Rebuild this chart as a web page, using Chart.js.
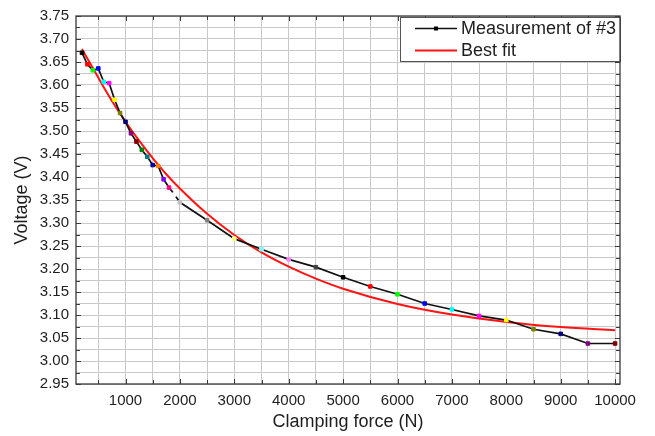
<!DOCTYPE html>
<html>
<head>
<meta charset="utf-8">
<script src="https://cdn.jsdelivr.net/npm/chart.js@4/dist/chart.umd.min.js"></script>
<style>
  html, body { margin: 0; padding: 0; background: #fff; }
  #wrap { width: 655px; height: 436px; }
</style>
</head>
<body>
<div id="wrap"><canvas id="c" width="655" height="436"></canvas></div>
<script>
// Clamping force steps (N) and the measured output voltage of sample #3 (V)
const forceN = [200, 300, 400, 500, 600, 700, 800, 900, 1000, 1100, 1200, 1300, 1400, 1500, 1600, 1700, 1800,
                1900, 2000, 2500, 3000, 3500, 4000, 4500, 5000, 5500, 6000, 6500, 7000, 7500, 8000, 8500, 9000, 9500, 10000];
const voltageV = [3.670, 3.645, 3.632, 3.636, 3.607, 3.604, 3.568, 3.539, 3.520, 3.495, 3.477, 3.459, 3.444, 3.426, 3.424, 3.395, 3.377,
                  3.362, 3.345, 3.306, 3.266, 3.243, 3.221, 3.204, 3.182, 3.162, 3.145, 3.125, 3.112, 3.098, 3.089, 3.069, 3.059, 3.038, 3.038];

// Best-fit curve, sampled along the force axis
const fitForceN = [200, 400, 600, 800, 1000, 1250, 1500, 1750, 2000, 2500, 3000, 3500, 4000, 4500, 5000, 6000, 7000, 8000, 9000, 10000];
const fitVoltageV = [3.678, 3.637, 3.595, 3.556, 3.520, 3.479, 3.441, 3.406, 3.375, 3.320, 3.274, 3.236, 3.205, 3.179, 3.157, 3.124, 3.101, 3.085, 3.074, 3.067];

// Axis tick labels
const xTickLabels = ['1000', '2000', '3000', '4000', '5000', '6000', '7000', '8000', '9000', '10000'];
const yTickLabels = ['2.95', '3.00', '3.05', '3.10', '3.15', '3.20', '3.25', '3.30', '3.35', '3.40', '3.45',
                     '3.50', '3.55', '3.60', '3.65', '3.70', '3.75'];

// Per-point marker colours (Origin colour cycle)
const cycle = ['#000000', '#ff0000', '#00ff00', '#0000ff', '#00ffff', '#ff00ff', '#ffff00', '#808000',
               '#000080', '#800080', '#800000', '#008000', '#008080', '#0000a0', '#ff8000', '#8000ff',
               '#ff0080', '#ffffff', '#c0c0c0', '#808080', '#ffff80', '#80ffff', '#ff80ff', '#404040'];
const markerColors = forceN.map((_, i) => cycle[i % cycle.length]);

const FONT = 'Arial, "Liberation Sans", Helvetica, sans-serif';
const TEXT = '#1e1e1e';

// grid lines sit halfway between labelled ticks as well
function gridValues(labels, decimals) {
  const vals = labels.map(Number);
  const step = vals[1] - vals[0];
  const out = [];
  const first = vals[0] - step / 2;
  for (let v = first > 0 ? first : vals[0]; v <= vals[vals.length - 1] + 1e-9; v += step / 2) {
    out.push(+v.toFixed(decimals));
  }
  return out;
}
const xGrid = gridValues(xTickLabels, 0);
const yGrid = gridValues(yTickLabels, 3).filter(v => v >= 2.95 - 1e-9);

function labelFor(labels, value) {
  const hit = labels.find(l => Math.abs(Number(l) - value) < 1e-6);
  return hit === undefined ? '' : hit;
}

const framePlugin = {
  id: 'frameAndLegend',
  afterDraw(chart) {
    const { ctx, chartArea: a, scales: { x, y } } = chart;
    ctx.save();

    // inward ticks on all four sides
    ctx.strokeStyle = '#3a3a3a';
    ctx.lineWidth = 1;
    ctx.beginPath();
    x.ticks.forEach(t => {
      const px = Math.round(x.getPixelForValue(t.value)) + 0.5;
      const len = t.label ? 5 : 4;
      ctx.moveTo(px, a.bottom); ctx.lineTo(px, a.bottom - len);
      ctx.moveTo(px, a.top); ctx.lineTo(px, a.top + len);
    });
    y.ticks.forEach(t => {
      const py = Math.round(y.getPixelForValue(t.value)) + 0.5;
      const len = t.label ? 5 : 4;
      ctx.moveTo(a.left, py); ctx.lineTo(a.left + len, py);
      ctx.moveTo(a.right, py); ctx.lineTo(a.right - len, py);
    });
    ctx.stroke();

    // legend box in the top-right corner
    const bw = 220, bh = 44;
    const bx = a.right - bw, by = a.top + 1;
    ctx.fillStyle = '#ffffff';
    ctx.fillRect(bx, by, bw, bh);
    ctx.strokeStyle = '#555';
    ctx.lineWidth = 1;
    ctx.strokeRect(Math.round(bx) + 0.5, Math.round(by) + 0.5, bw, bh);

    const rows = [by + 11.5, by + 33.5];
    chart.data.datasets.forEach((ds, i) => {
      const ry = rows[i];
      ctx.strokeStyle = ds.borderColor;
      ctx.lineWidth = ds.borderWidth;
      ctx.beginPath();
      ctx.moveTo(bx + 15, ry);
      ctx.lineTo(bx + 57, ry);
      ctx.stroke();
      if (ds.pointRadius > 0) {
        ctx.fillStyle = '#000';
        ctx.fillRect(bx + 34, ry - 2, 4, 4);
      }
      ctx.fillStyle = TEXT;
      ctx.font = '18px ' + FONT;
      ctx.textBaseline = 'middle';
      ctx.textAlign = 'left';
      ctx.fillText(ds.label, bx + 61, ry + 1);
    });

    // plot frame
    ctx.strokeStyle = '#3a3a3a';
    ctx.lineWidth = 1.3;
    ctx.strokeRect(a.left, a.top, a.right - a.left, a.bottom - a.top);
    ctx.restore();
  }
};

new Chart(document.getElementById('c'), {
  type: 'line',
  data: {
    datasets: [
      {
        label: 'Measurement of #3',
        data: forceN.map((f, i) => ({ x: f, y: voltageV[i] })),
        borderColor: '#111111',
        borderWidth: 1.7,
        pointStyle: 'rect',
        pointRadius: 2.5,
        pointBorderWidth: 1,
        pointBackgroundColor: markerColors,
        pointBorderColor: markerColors,
        tension: 0,
        order: 0
      },
      {
        label: 'Best fit',
        data: fitForceN.map((f, i) => ({ x: f, y: fitVoltageV[i] })),
        borderColor: '#ff1414',
        borderWidth: 2,
        pointRadius: 0,
        cubicInterpolationMode: 'monotone',
        order: 1
      }
    ]
  },
  options: {
    responsive: false,
    animation: false,
    devicePixelRatio: 1,
    layout: { padding: { left: 0, right: 35, top: 11, bottom: 0 } },
    plugins: { legend: { display: false }, tooltip: { enabled: false } },
    scales: {
      x: {
        type: 'linear',
        min: 90,
        max: 10090,
        afterBuildTicks: s => { s.ticks = xGrid.map(v => ({ value: v })); },
        afterFit: s => { s.height = 52; },
        grid: { color: '#c9c9c9', lineWidth: 1, drawTicks: false },
        border: { display: false },
        ticks: {
          autoSkip: false, maxRotation: 0, minRotation: 0, padding: 8,
          color: TEXT, font: { family: FONT, size: 15 },
          callback: v => labelFor(xTickLabels, v)
        },
        title: {
          display: true, text: 'Clamping force (N)', color: TEXT,
          font: { family: FONT, size: 18 }, padding: { top: 0, bottom: 3 }
        }
      },
      y: {
        type: 'linear',
        min: 2.95,
        max: 3.75,
        afterBuildTicks: s => { s.ticks = yGrid.map(v => ({ value: v })); },
        afterFit: s => { s.width = 76; },
        grid: { color: '#c9c9c9', lineWidth: 1, drawTicks: false },
        border: { display: false },
        ticks: {
          autoSkip: false, padding: 7,
          color: TEXT, font: { family: FONT, size: 15 },
          callback: v => labelFor(yTickLabels, v)
        },
        title: {
          display: true, text: 'Voltage (V)', color: TEXT,
          font: { family: FONT, size: 18 }, padding: { top: 11, bottom: 0 }
        }
      }
    }
  },
  plugins: [framePlugin]
});
</script>
</body>
</html>
